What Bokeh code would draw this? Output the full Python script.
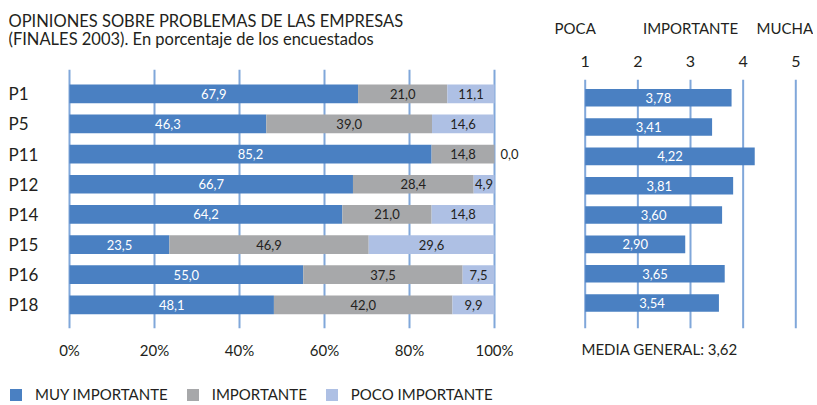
from bokeh.plotting import figure
from bokeh.models import (ColumnDataSource, Range1d, FixedTicker, Legend, LegendItem,
                          PrintfTickFormatter, Title, Label)
from bokeh.layouts import row, column
from bokeh.core.properties import value
from bokeh.embed import file_html
from bokeh.resources import INLINE

# ---------------- data ----------------
categories = ["P1", "P5", "P11", "P12", "P14", "P15", "P16", "P18"]
muy_importante = [67.9, 46.3, 85.2, 66.7, 64.2, 23.5, 55.0, 48.1]
importante = [21.0, 39.0, 14.8, 28.4, 21.0, 46.9, 37.5, 42.0]
poco_importante = [11.1, 14.6, 0.0, 4.9, 14.8, 29.6, 7.5, 9.9]
medias = [3.78, 3.41, 4.22, 3.81, 3.60, 2.90, 3.65, 3.54]
media_general = 3.62
pct_ticks = [0, 20, 40, 60, 80, 100]
score_ticks = [1, 2, 3, 4, 5]
series_names = ["MUY IMPORTANTE", "IMPORTANTE", "POCO IMPORTANTE"]
title_lines = ["OPINIONES SOBRE PROBLEMAS DE LAS EMPRESAS",
               "(FINALES 2003). En porcentaje de los encuestados"]
scale_words = ["POCA", "IMPORTANTE", "MUCHA"]

# ---------------- style ----------------
FONT = "Lato"
DARK = "#231f20"
C_MUY = "#4a80c2"
C_IMP = "#a7a8aa"
C_POCO = "#aec0e4"
GRID = "#80a7da"

def fmt(v, d=1):
    return f"{v:.{d}f}".replace(".", ",")

idx = list(range(len(categories)))
n = len(idx)

def clean(p):
    p.outline_line_color = None
    p.background_fill_color = "white"
    p.border_fill_color = "white"
    p.xgrid.grid_line_color = None
    p.ygrid.grid_line_color = None

H = 386
BOTTOM = 58            # frame bottom at H - BOTTOM px

# ---------------- left chart ----------------
W1 = 548
px_per_pct = 4.25
zero_px = 61           # distance of 0% from frame left
frame_w1 = W1 - 8
x0 = -zero_px / px_per_pct
x1 = (frame_w1 - zero_px) / px_per_pct
row_px1, first_px1, grid_px1 = 30.15, 93.3, 69.3
fb = H - BOTTOM
y_top1 = -first_px1 / row_px1
y_bot1 = (fb - first_px1) / row_px1
grid_top1 = (grid_px1 - first_px1) / row_px1

p1 = figure(width=W1, height=H, output_backend="svg", toolbar_location=None, title=None,
            x_range=Range1d(x0, x1), y_range=Range1d(y_bot1, y_top1),
            x_axis_location="below", y_axis_location=None,
            min_border_left=8, min_border_right=0, min_border_top=0, min_border_bottom=BOTTOM)
clean(p1)

# vertical reference lines (drawn first, under the bars)
p1.segment(x0=pct_ticks, x1=pct_ticks, y0=[grid_top1] * len(pct_ticks), y1=[y_bot1] * len(pct_ticks),
           line_color=GRID, line_width=2)

e_muy = list(muy_importante)
s_muy = [0.0] * n
s_imp = e_muy
e_imp = [a + b for a, b in zip(muy_importante, importante)]
s_poco = e_imp
e_poco = [a + b for a, b in zip(e_imp, poco_importante)]

src = ColumnDataSource(dict(y=idx, s_muy=s_muy, e_muy=e_muy, s_imp=s_imp, e_imp=e_imp,
                            s_poco=s_poco, e_poco=e_poco))
bh = 0.62
p1.hbar(y="y", left="s_muy", right="e_muy", height=bh, source=src, fill_color=C_MUY, line_color=None)
p1.hbar(y="y", left="s_imp", right="e_imp", height=bh, source=src, fill_color=C_IMP, line_color=None)
p1.hbar(y="y", left="s_poco", right="e_poco", height=bh, source=src, fill_color=C_POCO, line_color=None)

def seg_labels(starts, vals, color):
    xs, ys, ts = [], [], []
    for i, (s, v) in enumerate(zip(starts, vals)):
        if v > 0:
            xs.append(s + v / 2); ys.append(i); ts.append(fmt(v))
    p1.text(x=xs, y=ys, text=ts, text_align="center", text_baseline="middle",
            text_font=value(FONT), text_font_size="13px", text_color=color)

seg_labels(s_muy, muy_importante, "white")
seg_labels(s_imp, importante, DARK)
seg_labels(s_poco, poco_importante, DARK)
zx = [e for e, v in zip(e_poco, poco_importante) if v == 0]
zy = [i for i, v in zip(idx, poco_importante) if v == 0]
zt = [fmt(v) for v in poco_importante if v == 0]
p1.text(x=zx, y=zy, text=zt, x_offset=6, text_align="left", text_baseline="middle",
        text_font=value(FONT), text_font_size="13px", text_color=DARK)

p1.text(x=[x0] * n, y=idx, text=categories, text_align="left", text_baseline="middle",
        text_font=value(FONT), text_font_size="17px", text_color=DARK)

ax = p1.xaxis[0]
ax.ticker = FixedTicker(ticks=pct_ticks)
ax.formatter = PrintfTickFormatter(format="%d%%")
ax.axis_line_color = None
ax.major_tick_line_color = None
ax.minor_tick_line_color = None
ax.major_tick_out = 0
ax.minor_tick_out = 0
ax.major_label_standoff = 12
ax.major_label_text_font = FONT
ax.major_label_text_font_size = "15px"
ax.major_label_text_color = DARK

for line, vy in zip(title_lines, [fb - 20, fb - 38]):
    p1.add_layout(Label(x=0, y=vy, x_units="screen", y_units="screen", text=line,
                        text_font=FONT, text_font_size="16.5px", text_color=DARK,
                        text_baseline="middle", text_align="left"))

# ---------------- right chart ----------------
W2 = 265
px_per_pt = 52.65
one_px = 36.7
sx0 = 1 - one_px / px_per_pt
sx1 = sx0 + W2 / px_per_pt
row_px2, first_px2, grid_px2 = 29.33, 97.2, 79.3
y_top2 = -first_px2 / row_px2
y_bot2 = (fb - first_px2) / row_px2
grid_top2 = (grid_px2 - first_px2) / row_px2

p2 = figure(width=W2, height=H, output_backend="svg", toolbar_location=None, title=None,
            x_range=Range1d(sx0, sx1), y_range=Range1d(y_bot2, y_top2),
            x_axis_location=None, y_axis_location=None,
            min_border_left=0, min_border_right=0, min_border_top=0, min_border_bottom=BOTTOM)
clean(p2)

p2.segment(x0=score_ticks, x1=score_ticks, y0=[grid_top2] * len(score_ticks),
           y1=[y_bot2] * len(score_ticks), line_color=GRID, line_width=2)

src2 = ColumnDataSource(dict(y=idx, base=[score_ticks[0]] * n, m=medias,
                             mid=[(score_ticks[0] + m) / 2 for m in medias],
                             t=[fmt(m, 2) for m in medias]))
p2.hbar(y="y", left="base", right="m", height=0.60, source=src2, fill_color=C_MUY, line_color=None)
p2.text(x="mid", y="y", text="t", source=src2, text_align="center", text_baseline="middle",
        text_font=value(FONT), text_font_size="13px", text_color="white")

# scale numbers above the lines
p2.text(x=score_ticks, y=[grid_top2] * len(score_ticks), text=[str(t) for t in score_ticks],
        y_offset=-18, text_align="center", text_baseline="middle",
        text_font=value(FONT), text_font_size="16px", text_color=DARK)
# scale words
word_at = [score_ticks[0], score_ticks[2], score_ticks[4]]
p2.text(x=word_at, y=[grid_top2] * 3, text=scale_words, x_offset=[-10, 0, -11], y_offset=-52,
        text_align="center", text_baseline="middle",
        text_font=value(FONT), text_font_size="15px", text_color=DARK)

p2.add_layout(Title(text="MEDIA GENERAL: " + fmt(media_general, 2), align="left", offset=33,
                    standoff=18, text_font=FONT, text_font_size="15px", text_font_style="normal",
                    text_color=DARK), "below")

# ---------------- legend strip ----------------
p3 = figure(width=560, height=19, output_backend="svg", toolbar_location=None, title=None,
            x_axis_location=None, y_axis_location=None,
            x_range=Range1d(-3, -2), y_range=Range1d(-3, -2),
            min_border_left=0, min_border_right=0, min_border_top=0, min_border_bottom=0)
clean(p3)
lr = [p3.hbar(y="y", left=s, right=e, height=bh, source=src, fill_color=c, line_color=None)
      for s, e, c in (("s_muy", "e_muy", C_MUY), ("s_imp", "e_imp", C_IMP), ("s_poco", "e_poco", C_POCO))]
legend = Legend(items=[LegendItem(label=nm, renderers=[r]) for nm, r in zip(series_names, lr)],
                orientation="horizontal", location=(8, 2),
                glyph_width=15, glyph_height=15, label_height=15,
                label_standoff=12, spacing=17, padding=0, margin=0,
                label_text_font=FONT, label_text_font_size="15px", label_text_color=DARK,
                border_line_color=None, background_fill_alpha=0)
p3.add_layout(legend, "center")

layout = column(row(p1, p2), p3)
open("out.html", "w").write(file_html(layout, INLINE))
